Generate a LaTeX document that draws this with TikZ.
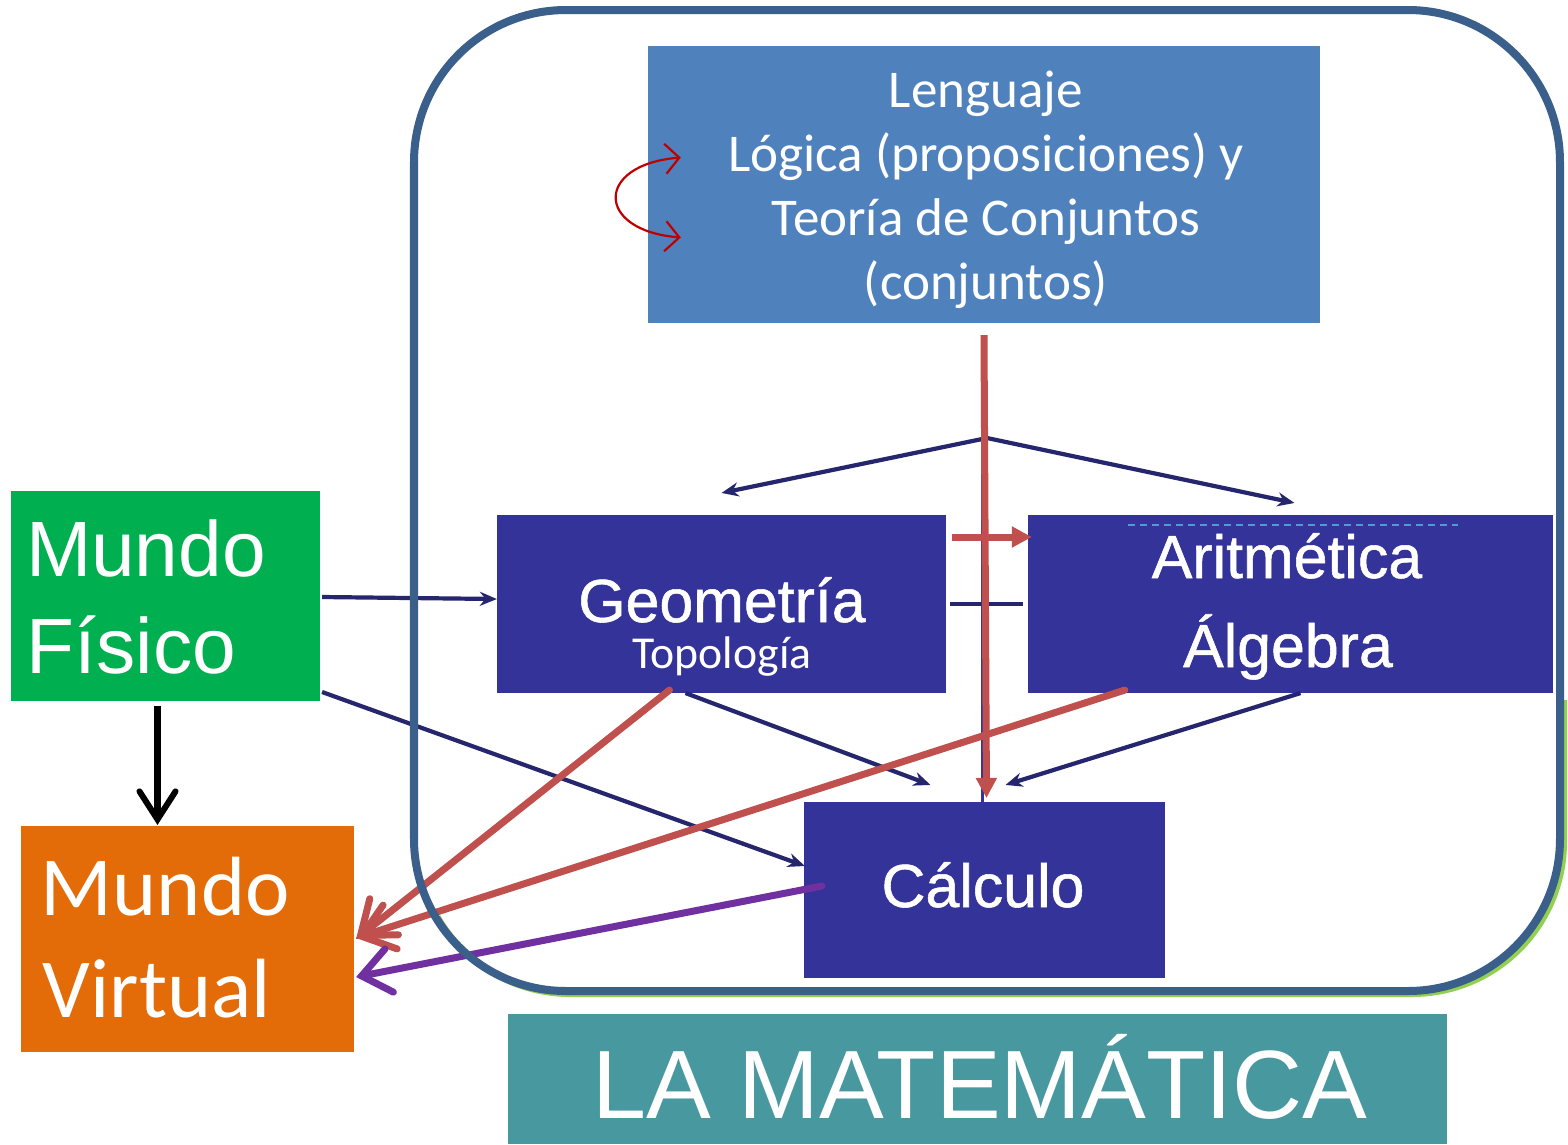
\documentclass[tikz,border=0pt]{standalone}
\usepackage{fontspec}
\setmainfont{Carlito}
\newfontfamily\arialf{Liberation Sans}
\newfontfamily\arialb[FakeBold=0.9]{Liberation Sans}
\usetikzlibrary{arrows.meta,calc}
\definecolor{lblue}{HTML}{4F81BD}
\definecolor{indig}{HTML}{333399}
\definecolor{mgreen}{HTML}{00B050}
\definecolor{morange}{HTML}{E36C09}
\definecolor{mteal}{HTML}{4898A0}
\definecolor{frameblue}{HTML}{3A5F8B}
\definecolor{framegreen}{HTML}{92D050}
\definecolor{navyc}{HTML}{26266E}
\definecolor{rred}{HTML}{C0504D}
\definecolor{dred}{HTML}{C00000}
\definecolor{purp}{HTML}{7030A0}
\definecolor{dashc}{HTML}{4F9BD5}
\begin{document}
\begin{tikzpicture}[x=0.01cm,y=-0.01cm,
  boxn/.style={inner sep=0pt, outer sep=0pt, draw=none},
  wtxt/.style={text=white, inner sep=0pt, outer sep=0pt},
  navyarrow/.style={draw=navyc, line width=0.042cm, -{Stealth[length=0.17cm,width=0.14cm]}},
  navyline/.style={draw=navyc, line width=0.042cm},
  redtri/.style={draw=rred, line width=0.07cm, -{Triangle[length=0.2cm,width=0.2cm]}},
  redbarb/.style={draw=rred, line width=0.07cm, line cap=round, -{Straight Barb[length=0.3cm,width=0.46cm,line cap=round]}},
  purpbarb/.style={draw=purp, line width=0.07cm, line cap=round, -{Straight Barb[length=0.28cm,width=0.44cm,line cap=round]}},
  blackbarb/.style={draw=black, line width=0.06cm, -{Straight Barb[length=0.28cm,width=0.36cm,line cap=round]}},
  curvebarb/.style={draw=dred, line width=0.022cm, {Straight Barb[length=0.14cm,width=0.3cm]}-{Straight Barb[length=0.14cm,width=0.3cm]}}]
\useasboundingbox (0,0) rectangle (1568,1144);
\fill[white] (0,0) rectangle (1568,1144);

% boxes
\node[boxn, fill=lblue, minimum width=6.72cm, minimum height=2.77cm] (leng) at (984,184.5) {};
\node[wtxt, align=center, font=\fontsize{15.1}{18.2}\selectfont] (lengt) at (986,190)
  {Lenguaje\\Lógica (proposiciones) y\\Teoría de Conjuntos\\(conjuntos)};

\node[boxn, fill=indig, minimum width=4.49cm, minimum height=1.78cm] (geo) at (721.5,604) {};
\node[wtxt, anchor=base, font=\arialb\fontsize{17.3}{20}\selectfont] (geot) at (722,622) {Geometría};
\node[wtxt, anchor=base, font=\fontsize{13}{15}\selectfont] (topo) at (722,668) {Topología};

\node[boxn, fill=indig, minimum width=5.25cm, minimum height=1.78cm] (arit) at (1290.5,604) {};
\node[wtxt, anchor=base, font=\arialb\fontsize{17.3}{20}\selectfont] (aritt) at (1287,578) {Aritmética};
\node[wtxt, anchor=base, font=\arialb\fontsize{17.3}{20}\selectfont] (alg) at (1288,667) {Álgebra};

\node[boxn, fill=indig, minimum width=3.61cm, minimum height=1.76cm] (calcu) at (984.5,890) {};
\node[wtxt, anchor=base, font=\arialb\fontsize{17.3}{20}\selectfont] (calct) at (983,907) {Cálculo};

\node[boxn, fill=mgreen, minimum width=3.09cm, minimum height=2.10cm] (mf) at (165.5,596) {};
\node[wtxt, anchor=base west, font=\arialf\fontsize{22.3}{26}\selectfont] (mft1) at (26,576) {Mundo};
\node[wtxt, anchor=base west, font=\arialf\fontsize{22.3}{26}\selectfont] (mft2) at (27,673) {Físico};

\node[boxn, fill=morange, minimum width=3.33cm, minimum height=2.26cm] (mv) at (187.5,939) {};
\node[wtxt, anchor=base west, font=\fontsize{23.9}{28}\selectfont] (mvt1) at (41,915) {Mundo};
\node[wtxt, anchor=base west, font=\fontsize{23.9}{28}\selectfont] (mvt2) at (43,1017) {Virtual};

\node[boxn, fill=mteal, minimum width=9.39cm, minimum height=1.30cm] (lam) at (977.5,1079) {};
\node[wtxt, anchor=base, font=\arialf\fontsize{27.6}{32}\selectfont] (lamt) at (980,1118) {LA MATEMÁTICA};

% dashed line in Aritmetica
\draw[dashc, line width=0.015cm, dash pattern=on 0.07cm off 0.05cm]
  ($(arit.north west)+(100,10)$) coordinate (dsa) -- ($(arit.north west)+(430,10)$) coordinate (dsb);

% connectors
\coordinate (jn) at (987,438);
\coordinate (bvtop) at (982,403);
\draw[draw=indig, line width=0.03cm] (bvtop) -- (bvtop |- calcu.north);
\draw[navyarrow] (jn) -- ($(geo.north)+(0,-22)$);
\draw[navyarrow] (jn) -- ($(arit.north)+(4,-12)$);
\draw[navyline] ($(geo.east)+(4,0)$) -- ($(arit.west)+(-5,0)$);
\draw[redtri] ($(leng.south)+(0,12)$) -- ($(calcu.north)+(2,-4)$);
\draw[redtri] ($(geo.east)+(6,-67)$) -- ($(arit.west)+(4,-67)$);

\draw[navyarrow] ($(mf.east)+(2,1)$) -- ($(geo.west)+(0,-5)$);
\draw[navyarrow] ($(mf.east)+(2,96)$) -- ($(calcu.west)+(1,-24)$);
\draw[navyarrow] ($(geo.south)+(-36,0)$) -- ($(calcu.north)+(-54,-17)$);
\draw[navyarrow] ($(arit.south)+(10,0)$) -- ($(calcu.north)+(21,-17)$);

\draw[redbarb] ($(geo.south)+(-52,-3)$) -- ($(mv.east)+(2,0)$);
\draw[redbarb] ($(arit.south west)+(97,-3)$) -- ($(mv.east)+(2,-1)$);
\draw[purpbarb] ($(calcu.west)+(18,-4)$) -- ($(mv.east)+(2,38)$);
\draw[blackbarb] ($(mf.south)+(-8,5)$) -- ($(mv.north)+(-30,-1)$);

\draw[curvebarb] ($(leng.west)+(33,-27)$) .. controls ($(leng.west)+(-53,-20)$) and ($(leng.west)+(-53,46)$) .. ($(leng.west)+(33,53)$);

% frame
\begin{scope}
\clip (440,700) rectangle (1568,1010);
\draw[framegreen, line width=0.06cm, rounded corners=1.52cm] (418,13) rectangle (1564,994);
\end{scope}
\draw[frameblue, line width=0.08cm, rounded corners=1.52cm] (414,10) rectangle (1560,991);
\end{tikzpicture}
\end{document}
